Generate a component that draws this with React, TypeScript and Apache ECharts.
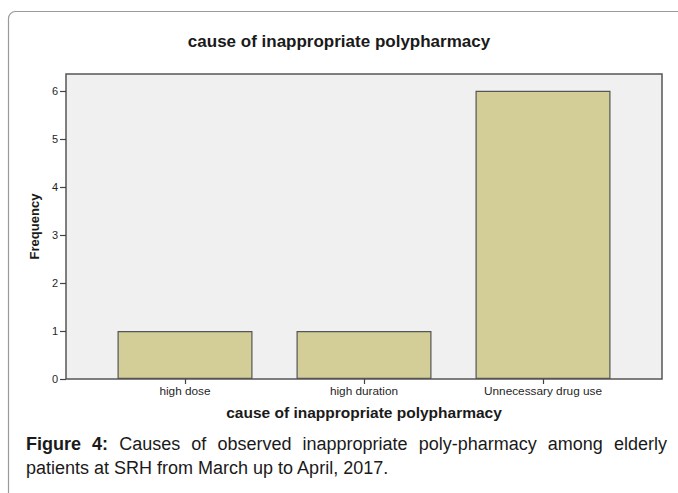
import React, { useEffect, useRef } from "react";
import * as echarts from "echarts";

const titleText = "cause of inappropriate polypharmacy";
const categories = ["high dose", "high duration", "Unnecessary drug use"];
const frequencies = [1, 1, 6];
const yTicks = [0, 1, 2, 3, 4, 5, 6];
const yAxisName = "Frequency";
const xAxisName = "cause of inappropriate polypharmacy";
const captionLine1 = [
  { w: "Figure", bold: true },
  { w: "4:", bold: true },
  { w: "Causes", bold: false },
  { w: "of", bold: false },
  { w: "observed", bold: false },
  { w: "inappropriate", bold: false },
  { w: "poly-pharmacy", bold: false },
  { w: "among", bold: false },
  { w: "elderly", bold: false },
];
const captionLine2 = "patients at SRH from March up to April, 2017.";

const FONT = '"Liberation Sans", Arial, Helvetica, sans-serif';

export default function App() {
  const ref = useRef<HTMLDivElement>(null);
  useEffect(() => {
    if (!ref.current) return;
    const chart = echarts.init(ref.current, undefined, { renderer: "svg" });

    // caption justification
    const capSize = 18;
    const cv = document.createElement("canvas");
    const ctx = cv.getContext("2d");
    const measure = (t: string, bold: boolean) => {
      if (!ctx) return t.length * capSize * 0.5;
      ctx.font = `${bold ? "bold " : ""}${capSize}px ${FONT}`;
      return ctx.measureText(t).width;
    };
    const x0 = 26;
    const x1 = 667;
    const widths = captionLine1.map((c) => measure(c.w, c.bold));
    const total = widths.reduce((a, b) => a + b, 0);
    const gap = (x1 - x0 - total) / (captionLine1.length - 1);
    let cx = x0;
    const capEls: any[] = [];
    captionLine1.forEach((c, i) => {
      capEls.push({
        type: "text",
        x: cx,
        y: 444,
        style: {
          text: c.w,
          fontSize: capSize,
          fontWeight: c.bold ? "bold" : "normal",
          fontFamily: FONT,
          fill: "#1a1a1a",
          align: "left",
          verticalAlign: "middle",
          textAlign: "left",
          textVerticalAlign: "middle",
        },
      });
      cx += widths[i] + gap;
    });
    capEls.push({
      type: "text",
      x: x0,
      y: 468,
      style: {
        text: captionLine2,
        fontSize: capSize,
        fontFamily: FONT,
        fill: "#1a1a1a",
        align: "left",
        verticalAlign: "middle",
        textAlign: "left",
        textVerticalAlign: "middle",
      },
    });

    chart.setOption({
      animation: false,
      backgroundColor: "#ffffff",
      title: {
        text: titleText,
        left: "center",
        top: 28,
        textStyle: {
          fontSize: 17,
          fontWeight: "bold",
          fontFamily: FONT,
          color: "#1a1a1a",
        },
      },
      graphic: [
        {
          type: "rect",
          z: -10,
          silent: true,
          shape: { x: 8.5, y: 11.5, width: 720, height: 520, r: 7 },
          style: { fill: "none", stroke: "#9a9a9a", lineWidth: 1.2 },
        },
        {
          type: "rect",
          z: -5,
          silent: true,
          shape: { x: 66, y: 74, width: 596, height: 305 },
          style: { fill: "#f0f0f0", stroke: "#555555", lineWidth: 1.5 },
        },
        ...capEls,
      ],
      grid: {
        left: 95.5,
        right: 45.5,
        top: 74,
        bottom: 114,
        containLabel: false,
      },
      xAxis: {
        type: "category",
        data: categories,
        boundaryGap: true,
        name: xAxisName,
        nameLocation: "middle",
        nameGap: 25,
        nameTextStyle: {
          fontSize: 15.5,
          fontWeight: "bold",
          fontFamily: FONT,
          color: "#1a1a1a",
        },
        axisLine: { show: false },
        axisTick: {
          show: true,
          alignWithLabel: true,
          length: 5,
          lineStyle: { color: "#444", width: 1.2 },
        },
        axisLabel: {
          fontSize: 11.8,
          fontFamily: FONT,
          color: "#1f1f1f",
          margin: 6,
        },
        splitLine: { show: false },
      },
      yAxis: {
        type: "value",
        min: 0,
        max: 6.35,
        offset: 29.5,
        name: yAxisName,
        nameLocation: "middle",
        nameGap: 20,
        nameRotate: 90,
        nameTextStyle: {
          fontSize: 13,
          fontWeight: "bold",
          fontFamily: FONT,
          color: "#1a1a1a",
        },
        axisLine: { show: false },
        axisTick: {
          show: true,
          inside: false,
          length: 6,
          customValues: yTicks,
          lineStyle: { color: "#444", width: 1.2 },
        },
        axisLabel: {
          customValues: yTicks,
          fontSize: 11,
          fontFamily: FONT,
          color: "#1f1f1f",
          margin: 8,
        },
        splitLine: { show: false },
      },
      series: [
        {
          type: "bar",
          data: frequencies,
          barWidth: 135,
          itemStyle: {
            color: "#d3ce97",
            borderColor: "#555555",
            borderWidth: 1.2,
          },
        },
      ],
    });
    return () => chart.dispose();
  }, []);
  return (
    <div
      ref={ref}
      style={{ position: "fixed", left: 0, top: 0, width: 678, height: 493 }}
    />
  );
}
